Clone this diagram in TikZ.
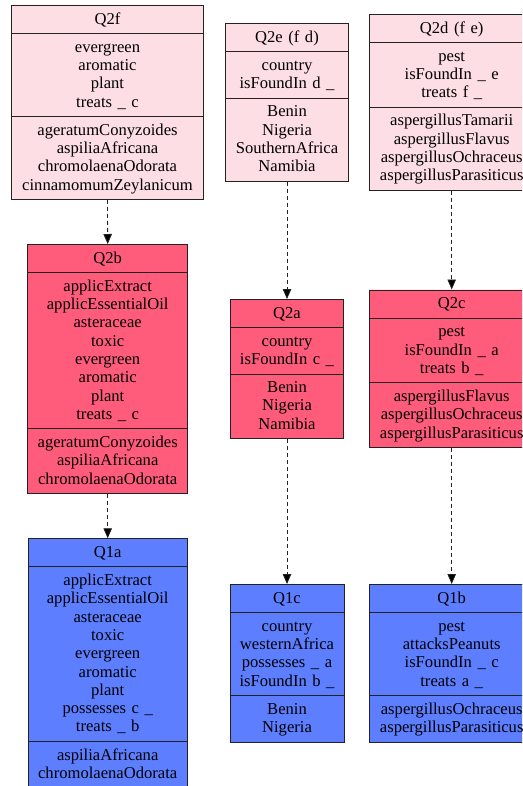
\documentclass[tikz,border=0pt]{standalone}
\usepackage{fontspec}
\setmainfont{Liberation Serif}
\usetikzlibrary{shapes.multipart,arrows.meta}
\definecolor{lpink}{HTML}{FDDEE4}
\definecolor{mpink}{HTML}{FF5C7C}
\definecolor{mblue}{HTML}{5C7EFF}
\definecolor{edge}{HTML}{222222}
\tikzset{
  rec/.style={rectangle split, rectangle split parts=3, draw=edge, line width=0.8pt,
    inner xsep=0pt, inner ysep=4.5pt, align=center, anchor=north,
    font=\fontsize{16.6}{18.3}\selectfont, text=black},
  link/.style={draw=edge, line width=0.8pt, dash pattern=on 4pt off 3pt,
    -{Triangle[length=10pt,width=8.5pt,fill=black]}}
}
\newcommand\rl[1]{\rule[-4.5pt]{0pt}{18.3pt}#1}
\begin{document}
\begin{tikzpicture}[x=1pt,y=-1pt]
\clip (0,0) rectangle (522,786);
\fill[white] (0,0) rectangle (522,786);
% top row
\node[rec, fill=lpink, text width=191.3pt] (q2f) at (107.5,5) {\rl{Q2f}
  \nodepart{two}\rl{evergreen}\\\rl{aromatic}\\\rl{plant}\\\rl{treats \_ c}
  \nodepart{three}\rl{ageratumConyzoides}\\\rl{aspiliaAfricana}\\\rl{chromolaenaOdorata}\\\rl{cinnamomumZeylanicum}};
\node[rec, fill=lpink, text width=122.6pt] (q2e) at (287,23.3) {\rl{Q2e (f d)}
  \nodepart{two}\rl{country}\\\rl{isFoundIn d \_}
  \nodepart{three}\rl{Benin}\\\rl{Nigeria}\\\rl{SouthernAfrica}\\\rl{Namibia}};
\node[rec, fill=lpink, text width=164.7pt] (q2d) at (451.7,14) {\rl{Q2d (f e)}
  \nodepart{two}\rl{pest}\\\rl{isFoundIn \_ e}\\\rl{treats f \_}
  \nodepart{three}\rl{aspergillusTamarii}\\\rl{aspergillusFlavus}\\\rl{aspergillusOchraceus}\\\rl{aspergillusParasiticus}};
% middle row
\node[rec, fill=mpink, text width=160pt] (q2b) at (107.7,244) {\rl{Q2b}
  \nodepart{two}\rl{applicExtract}\\\rl{applicEssentialOil}\\\rl{asteraceae}\\\rl{toxic}\\\rl{evergreen}\\\rl{aromatic}\\\rl{plant}\\\rl{treats \_ c}
  \nodepart{three}\rl{ageratumConyzoides}\\\rl{aspiliaAfricana}\\\rl{chromolaenaOdorata}};
\node[rec, fill=mpink, text width=112.3pt] (q2a) at (287,299) {\rl{Q2a}
  \nodepart{two}\rl{country}\\\rl{isFoundIn c \_}
  \nodepart{three}\rl{Benin}\\\rl{Nigeria}\\\rl{Namibia}};
\node[rec, fill=mpink, text width=164.7pt] (q2c) at (451.7,289.5) {\rl{Q2c}
  \nodepart{two}\rl{pest}\\\rl{isFoundIn \_ a}\\\rl{treats b \_}
  \nodepart{three}\rl{aspergillusFlavus}\\\rl{aspergillusOchraceus}\\\rl{aspergillusParasiticus}};
% bottom row
\node[rec, fill=mblue, text width=159.4pt] (q1a) at (107.7,538.3) {\rl{Q1a}
  \nodepart{two}\rl{applicExtract}\\\rl{applicEssentialOil}\\\rl{asteraceae}\\\rl{toxic}\\\rl{evergreen}\\\rl{aromatic}\\\rl{plant}\\\rl{possesses c \_}\\\rl{treats \_ b}
  \nodepart{three}\rl{aspiliaAfricana}\\\rl{chromolaenaOdorata}};
\node[rec, fill=mblue, text width=114pt] (q1c) at (287,584) {\rl{Q1c}
  \nodepart{two}\rl{country}\\\rl{westernAfrica}\\\rl{possesses \_ a}\\\rl{isFoundIn b \_}
  \nodepart{three}\rl{Benin}\\\rl{Nigeria}};
\node[rec, fill=mblue, text width=164.7pt] (q1b) at (451.7,584) {\rl{Q1b}
  \nodepart{two}\rl{pest}\\\rl{attacksPeanuts}\\\rl{isFoundIn \_ c}\\\rl{treats a \_}
  \nodepart{three}\rl{aspergillusOchraceus}\\\rl{aspergillusParasiticus}};
% connectors
\draw[link] (q2f.south) -- (q2b.north);
\draw[link] (q2b.south) -- (q1a.north);
\draw[link] (q2e.south) -- (q2a.north);
\draw[link] (q2a.south) -- (q1c.north);
\draw[link] (q2d.south) -- (q2c.north);
\draw[link] (q2c.south) -- (q1b.north);
\end{tikzpicture}
\end{document}
